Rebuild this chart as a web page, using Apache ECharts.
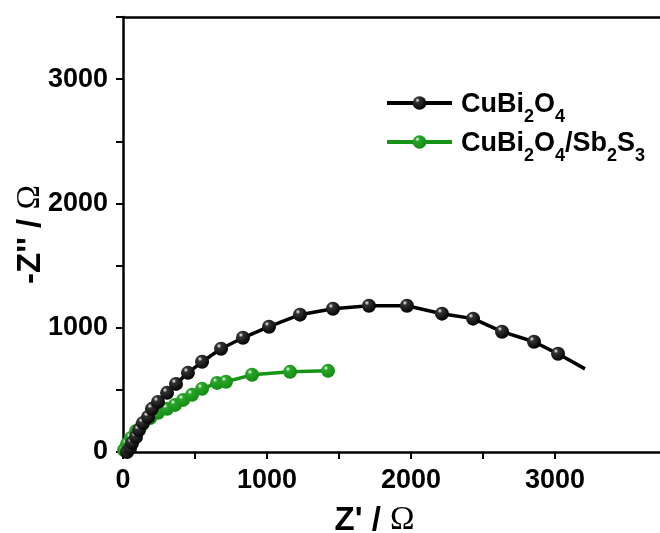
<!DOCTYPE html>
<html lang="en" style="height: 100%">
  <head>
    <meta charset="utf-8" />
  </head>
  <body style="height: 100%; margin: 0">
    <div id="container" style="width: 660px; height: 533px"></div>
    <script src="https://cdn.jsdelivr.net/npm/echarts@6/dist/echarts.min.js"></script>
    <script type="text/javascript">
      // Nyquist data: [Z', -Z'']
      const cuBiX = [28, 49, 63, 90, 111, 139, 174, 201, 243, 306, 368, 451, 549, 681, 833, 1014, 1229, 1458, 1708, 1972, 2215, 2431, 2632, 2854, 3021, 3208];
      const cuBiY = [0, 32, 73, 121, 177, 234, 282, 347, 403, 476, 548, 637, 726, 831, 919, 1008, 1105, 1153, 1177, 1177, 1113, 1073, 968, 887, 790, 669];
      const sbX = [7, 28, 56, 90, 132, 188, 243, 306, 361, 417, 479, 549, 653, 715, 896, 1160, 1424];
      const sbY = [16, 65, 113, 169, 218, 274, 315, 347, 379, 419, 460, 508, 556, 565, 621, 645, 653];
      const xTicks = [0, 500, 1000, 1500, 2000, 2500, 3000];
      const xLabels = [0, 1000, 2000, 3000];

      var dom = document.getElementById("container");
      var myChart = echarts.init(dom, null, { renderer: "canvas" });

      var font = "'Liberation Sans', Arial, sans-serif";
      var green = "#179417";

      function ball(c0, c1) {
        return new echarts.graphic.RadialGradient(0.35, 0.3, 0.75, [
          { offset: 0, color: "#ffffff" },
          { offset: 0.22, color: c0 },
          { offset: 1, color: c1 },
        ]);
      }

      function pairs(xs, ys) {
        var res = [];
        for (var i = 0; i < xs.length; i++) res.push([xs[i], ys[i]]);
        return res;
      }

      var blackData = pairs(cuBiX, cuBiY);
      // last point is line end only, no marker
      blackData[blackData.length - 1] = {
        value: blackData[blackData.length - 1],
        symbol: "none",
      };

      var nameRich = {
        b: { fontFamily: font, fontWeight: "bold", fontSize: 33, color: "#000" },
        o: { fontFamily: "'Liberation Serif', serif", fontSize: 33, color: "#000" },
      };

      var option = {
        animation: false,
        grid: { left: 123, top: 17, right: 0, bottom: 81, outerBoundsMode: "none" },
        legend: {
          orient: "vertical",
          left: 385,
          top: 91,
          padding: 0,
          itemWidth: 65,
          itemHeight: 17,
          itemGap: 4,
          lineStyle: { width: 4 },
          data: ["CuBi2O4", "CuBi2O4/Sb2S3"],
          formatter: function (name) {
            if (name === "CuBi2O4") return "{a|CuBi}{s|2}{a|O}{s|4}";
            return "{a|CuBi}{s|2}{a|O}{s|4}{a|/Sb}{s|2}{a|S}{s|3}";
          },
          textStyle: {
            padding: [0, 0, 0, 4],
            rich: {
              a: { fontFamily: font, fontWeight: "bold", fontSize: 27, color: "#000", lineHeight: 30, verticalAlign: "bottom" },
              s: { fontFamily: font, fontWeight: "bold", fontSize: 18, color: "#000", lineHeight: 30, verticalAlign: "bottom", padding: [0, 0, -8, 0] },
            },
          },
        },
        xAxis: [
          {
            type: "value",
            min: 0,
            max: 3729,
            interval: 500,
            name: "{b|Z' / }{o|Ω}",
            nameLocation: "middle",
            nameGap: 52,
            nameTextStyle: { padding: [0, 34, 0, 0], rich: nameRich },
            splitLine: { show: false },
            axisLine: { lineStyle: { color: "#000", width: 2.5 } },
            axisTick: {
              length: 7,
              customValues: xTicks,
              lineStyle: { color: "#000", width: 2 },
            },
            axisLabel: {
              customValues: xLabels,
              margin: 15,
              fontFamily: font,
              fontWeight: "bold",
              fontSize: 27,
              color: "#000",
              formatter: function (v) {
                return String(v);
              },
            },
          },
          {
            type: "value",
            position: "top",
            min: 0,
            max: 3729,
            axisLine: { show: true, onZero: false, lineStyle: { color: "#000", width: 2.5 } },
            axisTick: { show: false },
            axisLabel: { show: false },
            splitLine: { show: false },
          },
        ],
        yAxis: {
          type: "value",
          min: 0,
          max: 3500,
          interval: 500,
          name: "{b|-Z'' / }{o|Ω}",
          nameLocation: "middle",
          nameGap: 76,
          nameMoveOverlap: false,
          nameRotate: 90,
          nameTextStyle: { rich: nameRich },
          splitLine: { show: false },
          axisLine: { lineStyle: { color: "#000", width: 2.5 } },
          axisTick: { length: 7, lineStyle: { color: "#000", width: 2 } },
          axisLabel: {
            margin: 15,
            fontFamily: font,
            fontWeight: "bold",
            fontSize: 27,
            color: "#000",
            formatter: function (v) {
              return v % 1000 === 0 ? String(v) : "";
            },
          },
        },
        series: [
          {
            name: "CuBi2O4",
            type: "line",
            data: blackData,
            symbol: "circle",
            symbolSize: 14,
            showAllSymbol: true,
            lineStyle: { color: "#000", width: 3.5 },
            itemStyle: { color: ball("#333", "#000"), borderWidth: 0 },
            z: 3,
          },
          {
            name: "CuBi2O4/Sb2S3",
            type: "line",
            data: pairs(sbX, sbY),
            symbol: "circle",
            symbolSize: 14,
            showAllSymbol: true,
            lineStyle: { color: green, width: 3.5 },
            itemStyle: { color: ball("#2aa52a", "#108a10"), borderWidth: 0 },
            z: 2,
          },
        ],
      };

      myChart.setOption(option);
      window.addEventListener("resize", myChart.resize);
    </script>
  </body>
</html>
